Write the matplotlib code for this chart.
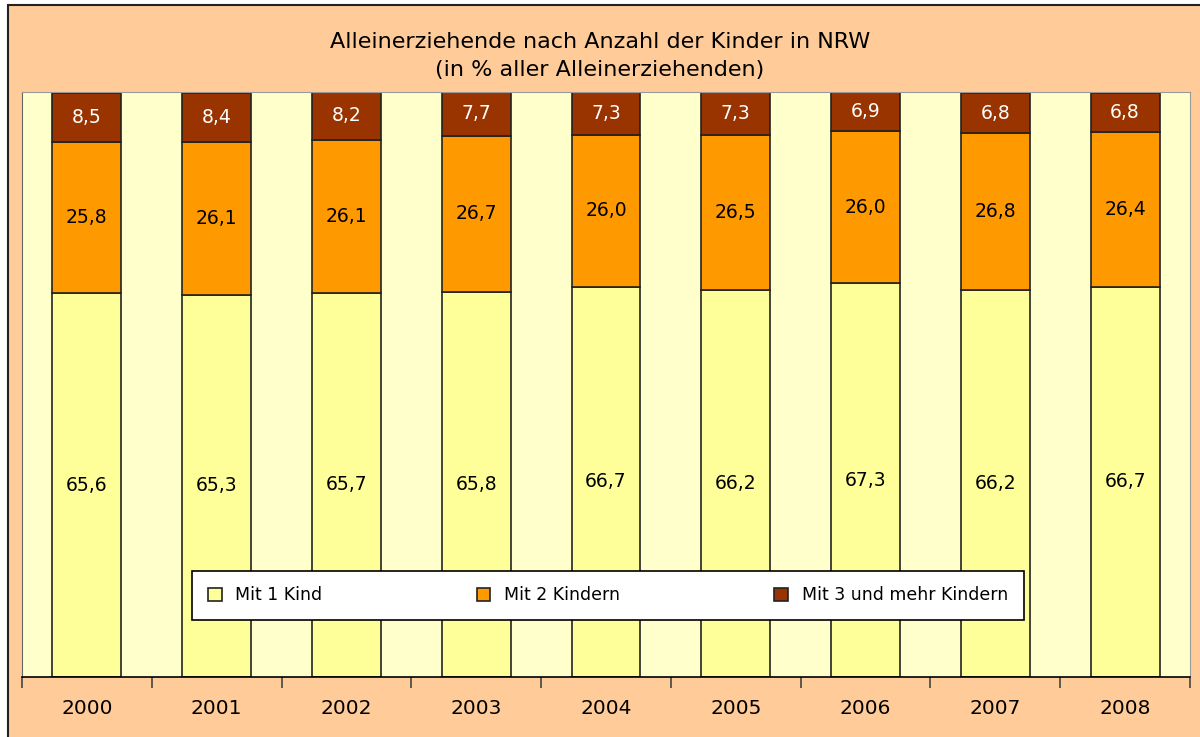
import matplotlib
matplotlib.use('Agg')
from matplotlib import pyplot as plt
from matplotlib.patches import Rectangle
import numpy as np

years = ['2000', '2001', '2002', '2003', '2004', '2005', '2006', '2007', '2008']
kind1 = [65.6, 65.3, 65.7, 65.8, 66.7, 66.2, 67.3, 66.2, 66.7]
kind2 = [25.8, 26.1, 26.1, 26.7, 26.0, 26.5, 26.0, 26.8, 26.4]
kind3 = [8.5, 8.4, 8.2, 7.7, 7.3, 7.3, 6.9, 6.8, 6.8]
series_names = ['Mit 1 Kind', 'Mit 2 Kindern', 'Mit 3 und mehr Kindern']
colors = ['#FFFF99', '#FF9900', '#993300']
text_colors = ['black', 'black', 'white']

plt.rcParams['font.family'] = ['DejaVu Sans']

fig = plt.figure(figsize=(12, 7.37), dpi=100)
fig.patch.set_facecolor('white')
fig.patches.append(Rectangle((8/1200, -0.01), 1.0, 1 - 5/737 + 0.01, transform=fig.transFigure,
                             facecolor='#FFCC99', edgecolor='#222222', lw=1.5, zorder=-5))

ax = fig.add_axes([22/1200, 1 - 677/737, (1190 - 22)/1200, (677 - 92)/737])
ax.set_facecolor('#FFFFCC')

x = np.arange(len(years))
bottom = np.zeros(len(years))
handles = []
for vals, c, tc, name in zip([kind1, kind2, kind3], colors, text_colors, series_names):
    vals = np.array(vals)
    bars = ax.bar(x, vals, 0.53, bottom=bottom, color=c, edgecolor='#222222', lw=1.2, label=name, zorder=2)
    handles.append(bars)
    for xi, b, v in zip(x, bottom, vals):
        ax.text(xi, b + v/2, f'{v:.1f}'.replace('.', ','), ha='center', va='center',
                color=tc, fontsize=13.5, zorder=3)
    bottom = bottom + vals

ax.set_xlim(-0.5, len(years) - 0.5)
ax.set_ylim(0, 100)
ax.set_yticks([])
ax.set_xticks(x)
ax.set_xticklabels(years, fontsize=14.5)
ax.tick_params(axis='x', which='major', length=0, pad=16)
ax.set_xticks(np.arange(-0.5, len(years)), minor=True)
ax.tick_params(axis='x', which='minor', length=8, width=1.2, color='#444444', direction='out')
ax.spines['top'].set_color('#999999')
ax.spines['right'].set_color('#999999')
ax.spines['left'].set_color('#666666')
ax.spines['bottom'].set_color('black')
ax.spines['bottom'].set_linewidth(1.2)

leg = ax.legend(handles=handles, ncol=3, loc='lower left',
                bbox_to_anchor=((192 - 22)/1168, (677 - 620)/585, (1024 - 192)/1168, (620 - 570)/585),
                mode='expand', fontsize=12.5, frameon=True, fancybox=False, edgecolor='black',
                framealpha=1, facecolor='white',
                handlelength=0.8, handleheight=0.8, borderaxespad=0, borderpad=0.9)
leg.get_frame().set_linewidth(1.2)
leg.set_zorder(5)

fig.text(0.5, 1 - 42/737, 'Alleinerziehende nach Anzahl der Kinder in NRW', ha='center', va='center', fontsize=16)
fig.text(0.5, 1 - 70/737, '(in % aller Alleinerziehenden)', ha='center', va='center', fontsize=16)

fig.savefig('out.png', dpi=100)
